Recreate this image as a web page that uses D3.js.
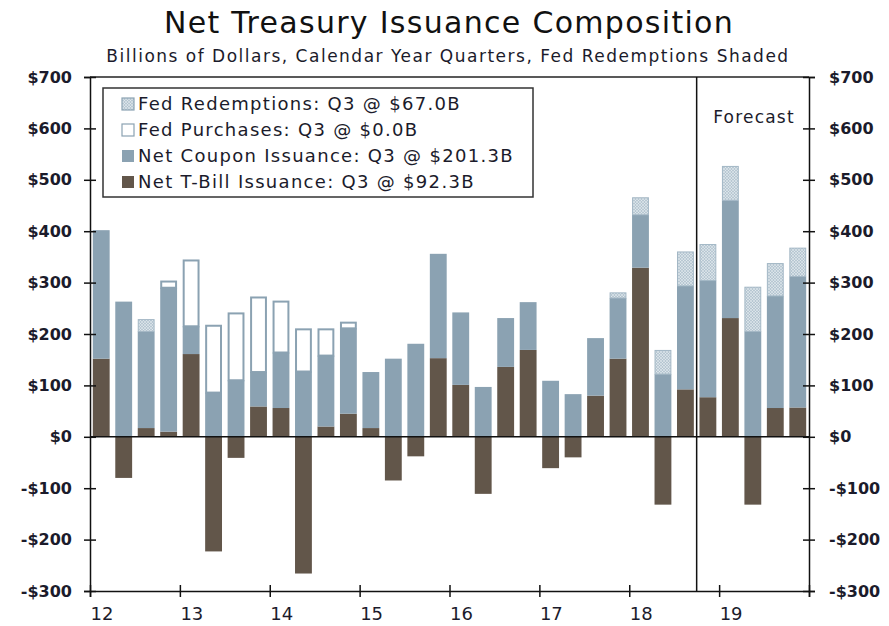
<!DOCTYPE html>
<html>
<head>
<meta charset="utf-8">
<script src="https://cdn.jsdelivr.net/npm/d3@7"></script>
<style>
  body { margin: 0; background: #fff; }
  svg text { font-family: "DejaVu Sans", Verdana, sans-serif; }
</style>
</head>
<body>
<div id="chartArea"></div>
<script>
// quarters 2012Q1 .. 2019Q4, billions of dollars
var years = [2012, 2013, 2014, 2015, 2016, 2017, 2018, 2019];
var qNames = ['Q1', 'Q2', 'Q3', 'Q4'];

var tbill = [152, -80, 17, 10, 161, -223, -41, 59, 56, -266, 20, 45, 17, -85, -38, 153,
    101, -111, 136, 169, -61, -40, 80, 152, 329, -132, 92.3, 77, 231, -132, 56, 57];
var coupon = [250, 263, 188, 280, 54, 86, 110, 67, 108, 127, 138, 166, 109, 152, 181, 203,
    141, 97, 95, 93, 109, 83, 112, 118, 103, 122, 201.3, 227, 229, 205, 218, 255];
var purchases = [0, 0, 0, 14, 130, 132, 132, 147, 101, 84, 53, 13, 0, 0, 0, 0,
    0, 0, 0, 0, 0, 0, 0, 0, 0, 0, 0, 0, 0, 0, 0, 0];
var redemptions = [0, 0, 24, 0, 0, 0, 0, 0, 0, 0, 0, 0, 0, 0, 0, 0,
    0, 0, 0, 0, 0, 0, 0, 11, 34, 47, 67.0, 71, 67, 87, 64, 56];

var yTicks = [700, 600, 500, 400, 300, 200, 100, 0, -100, -200, -300];
var forecastStart = '2018Q4';

var legendItems = [
    { key: 'red', label: 'Fed Redemptions: Q3 @ $67.0B' },
    { key: 'pur', label: 'Fed Purchases: Q3 @ $0.0B' },
    { key: 'cpn', label: 'Net Coupon Issuance: Q3 @ $201.3B' },
    { key: 'bill', label: 'Net T-Bill Issuance: Q3 @ $92.3B' }
];

var colBill = '#62564a',
    colCpn = '#8ba2b2',
    txt = '#1b1b2b';

var quarters = [];
years.forEach(function(y) {
    qNames.forEach(function(q) { quarters.push(y + q); });
});

var dataset = quarters.map(function(q, i) {
    var base = Math.max(tbill[i], 0);
    return {
        q: q,
        bill: tbill[i],
        c0: base,
        c1: base + coupon[i],
        p1: base + coupon[i] + purchases[i],
        r1: base + coupon[i] + purchases[i] + redemptions[i],
        pur: purchases[i],
        red: redemptions[i]
    };
});

var W = 889, H = 626;
var pLeft = 90, pRight = 809, pTop = 77, pBottom = 591;

var svg = d3.select('#chartArea').append('svg')
    .attr('width', W)
    .attr('height', H);

// dotted fill for redemptions
var pat = svg.append('defs').append('pattern')
    .attr('id', 'dots')
    .attr('patternUnits', 'userSpaceOnUse')
    .attr('width', 3)
    .attr('height', 3);
pat.append('rect').attr('width', 3).attr('height', 3).attr('fill', '#b7c7d2');
pat.append('circle').attr('cx', 1).attr('cy', 1).attr('r', 0.8).attr('fill', '#f4f7f9');
pat.append('circle').attr('cx', 2.5).attr('cy', 2.5).attr('r', 0.6).attr('fill', '#e6ecf0');

var xScale = d3.scaleBand()
    .domain(quarters)
    .range([pLeft, pRight])
    .paddingInner(0.25)
    .paddingOuter(0.125);

var xYear = d3.scaleLinear()
    .domain([2012, 2020])
    .range([pLeft, pRight]);

var yScale = d3.scaleLinear()
    .domain([-300, 700])
    .range([pBottom, pTop]);

// titles
svg.append('text')
    .attr('x', 449).attr('y', 33)
    .attr('text-anchor', 'middle')
    .attr('font-size', 30)
    .attr('letter-spacing', 1.3)
    .attr('fill', '#111')
    .text('Net Treasury Issuance Composition');
svg.append('text')
    .attr('x', 448).attr('y', 62)
    .attr('text-anchor', 'middle')
    .attr('font-size', 17)
    .attr('letter-spacing', 1.5)
    .attr('fill', txt)
    .text('Billions of Dollars, Calendar Year Quarters, Fed Redemptions Shaded');

var bars = svg.append('g');

// T-bills
bars.selectAll('rect.bill')
    .data(dataset)
    .enter()
    .append('rect')
    .attr('class', 'bill')
    .attr('x', function(d) { return xScale(d.q); })
    .attr('y', function(d) { return yScale(Math.max(d.bill, 0)); })
    .attr('width', xScale.bandwidth())
    .attr('height', function(d) { return Math.abs(yScale(d.bill) - yScale(0)); })
    .attr('fill', colBill);

// coupons
bars.selectAll('rect.cpn')
    .data(dataset)
    .enter()
    .append('rect')
    .attr('class', 'cpn')
    .attr('x', function(d) { return xScale(d.q); })
    .attr('y', function(d) { return yScale(d.c1); })
    .attr('width', xScale.bandwidth())
    .attr('height', function(d) { return yScale(d.c0) - yScale(d.c1); })
    .attr('fill', colCpn);

// fed purchases (outlined)
bars.selectAll('rect.pur')
    .data(dataset.filter(function(d) { return d.pur > 0; }))
    .enter()
    .append('rect')
    .attr('class', 'pur')
    .attr('x', function(d) { return xScale(d.q) + 1; })
    .attr('y', function(d) { return yScale(d.p1) + 1; })
    .attr('width', xScale.bandwidth() - 2)
    .attr('height', function(d) { return yScale(d.c1) - yScale(d.p1) - 1; })
    .attr('fill', '#fff')
    .attr('stroke', colCpn)
    .attr('stroke-width', 2);

// fed redemptions (dotted)
bars.selectAll('rect.red')
    .data(dataset.filter(function(d) { return d.red > 0; }))
    .enter()
    .append('rect')
    .attr('class', 'red')
    .attr('x', function(d) { return xScale(d.q) + 0.5; })
    .attr('y', function(d) { return yScale(d.r1) + 0.5; })
    .attr('width', xScale.bandwidth() - 1)
    .attr('height', function(d) { return yScale(d.p1) - yScale(d.r1) - 0.5; })
    .attr('fill', 'url(#dots)')
    .attr('stroke', '#a3b7c5')
    .attr('stroke-width', 1);

// zero line and frame
svg.append('line')
    .attr('x1', pLeft).attr('x2', pRight)
    .attr('y1', yScale(0)).attr('y2', yScale(0))
    .attr('stroke', '#111').attr('stroke-width', 1.5);
svg.append('line')
    .attr('x1', pLeft).attr('x2', pRight)
    .attr('y1', pTop).attr('y2', pTop)
    .attr('stroke', '#222').attr('stroke-width', 1.5);

// forecast divider
var fx = xScale(forecastStart) - xScale.step() * xScale.paddingInner() / 2;
svg.append('line')
    .attr('x1', fx).attr('x2', fx)
    .attr('y1', pTop).attr('y2', pBottom)
    .attr('stroke', '#111').attr('stroke-width', 1.5);
svg.append('text')
    .attr('x', 754).attr('y', 123)
    .attr('text-anchor', 'middle')
    .attr('font-size', 17)
    .attr('letter-spacing', 1.2)
    .attr('fill', txt)
    .text('Forecast');

// axes
var fmt = function(v) { return (v < 0 ? '-$' : '$') + Math.abs(v); };

var yLeft = svg.append('g')
    .attr('transform', 'translate(' + pLeft + ',0)')
    .call(d3.axisLeft(yScale).tickValues(yTicks).tickFormat(fmt).tickSize(6).tickPadding(12));
var yRight = svg.append('g')
    .attr('transform', 'translate(' + pRight + ',0)')
    .call(d3.axisRight(yScale).tickValues(yTicks).tickFormat(fmt).tickSize(6).tickPadding(14));
var xAxis = svg.append('g')
    .attr('transform', 'translate(0,' + pBottom + ')')
    .call(d3.axisBottom(xYear).tickValues(d3.range(2012, 2021)).tickFormat(function(v) {
        return v < 2020 ? String(v).slice(2) : '';
    }).tickSize(6).tickPadding(10));

yLeft.selectAll('.tick line').attr('x1', 6);
yRight.selectAll('.tick line').attr('x1', -6);
xAxis.selectAll('.tick line').attr('y1', -6);

[yLeft, yRight, xAxis].forEach(function(g) {
    g.select('.domain').attr('stroke', '#111').attr('stroke-width', 1.5);
    g.selectAll('.tick line').attr('stroke', '#111').attr('stroke-width', 1.5);
    g.selectAll('.tick text')
        .attr('fill', txt)
        .style('font-family', '"DejaVu Sans", Verdana, sans-serif');
});
yLeft.selectAll('.tick text').attr('font-size', 16).attr('font-weight', 'bold');
yRight.selectAll('.tick text').attr('font-size', 16).attr('font-weight', 'bold');
xAxis.selectAll('.tick text')
    .attr('font-size', 18)
    .attr('text-anchor', 'start')
    .attr('dx', 0);

// legend
var leg = svg.append('g');
leg.append('rect')
    .attr('x', 103).attr('y', 88)
    .attr('width', 430).attr('height', 109)
    .attr('fill', '#fff')
    .attr('stroke', '#333')
    .attr('stroke-width', 1.5);

var rows = leg.selectAll('g.row')
    .data(legendItems)
    .enter()
    .append('g')
    .attr('class', 'row')
    .attr('transform', function(d, i) { return 'translate(122,' + (104 + i * 26) + ')'; });

rows.append('rect')
    .attr('x', 0).attr('y', -6)
    .attr('width', 12).attr('height', 12)
    .attr('fill', function(d) {
        return d.key === 'red' ? 'url(#dots)' : d.key === 'pur' ? '#fff' : d.key === 'cpn' ? colCpn : colBill;
    })
    .attr('stroke', function(d) { return d.key === 'pur' || d.key === 'red' ? colCpn : 'none'; })
    .attr('stroke-width', 1.2);

rows.append('text')
    .attr('x', 16).attr('y', 0)
    .attr('dy', '0.36em')
    .attr('font-size', 18)
    .attr('letter-spacing', 1.3)
    .attr('fill', txt)
    .text(function(d) { return d.label; });
</script>
</body>
</html>
